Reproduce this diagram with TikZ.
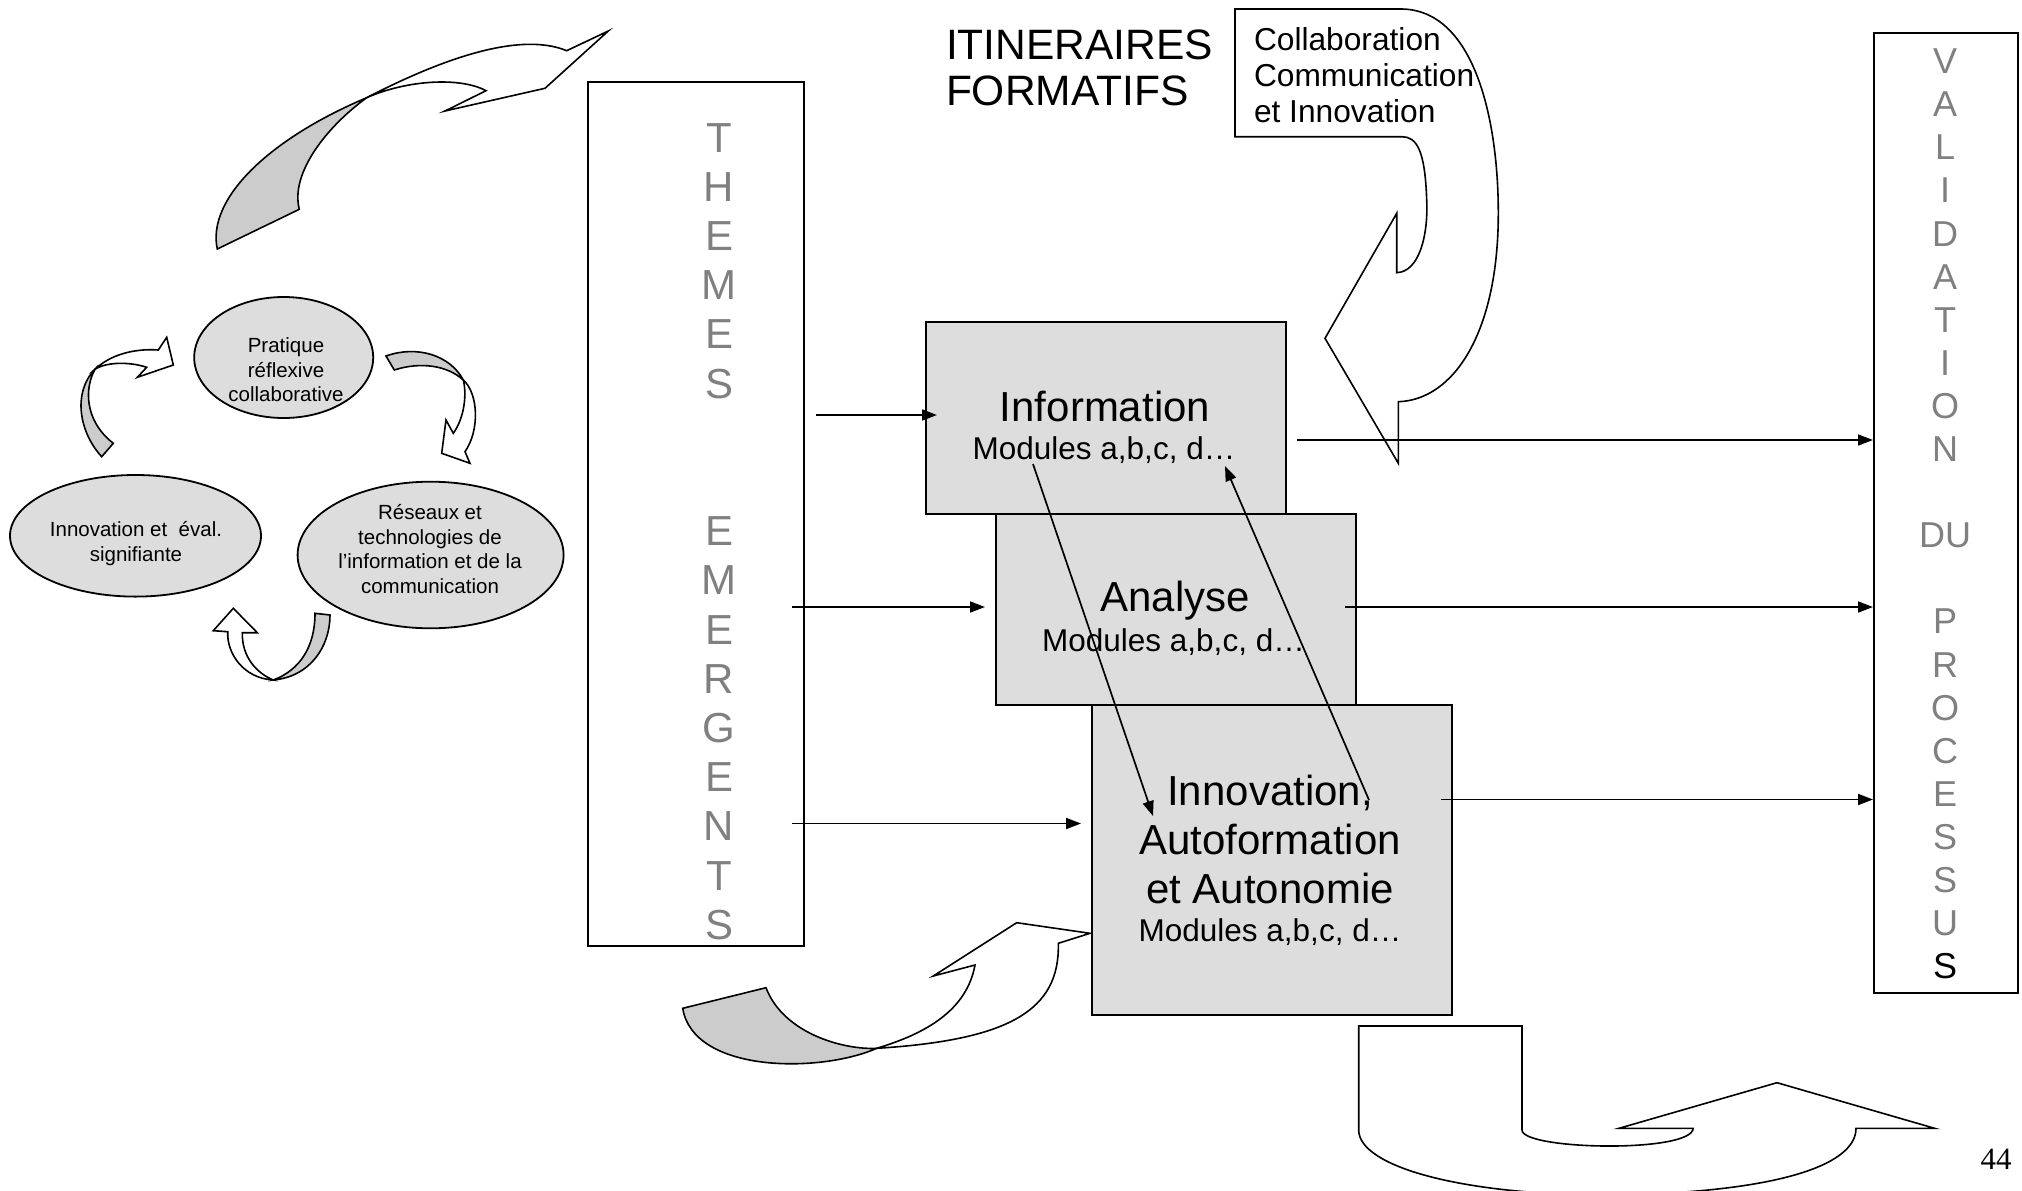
\documentclass[tikz,border=0pt]{standalone}
\usepackage{fontspec}
\setmainfont{Liberation Sans}
\newfontfamily\serifpn{Liberation Serif}
\usetikzlibrary{arrows.meta,shapes.geometric}
\definecolor{boxfill}{HTML}{DDDDDD}
\definecolor{tailfill}{HTML}{CCCCCC}
\definecolor{lettergray}{HTML}{808080}
\tikzset{
  txt/.style={inner sep=0pt, outer sep=0pt},
  procbox/.style={draw, line width=2pt, fill=boxfill, inner sep=0pt, anchor=north west},
  tallbox/.style={draw, line width=2pt, fill=white, inner sep=0pt, anchor=north west},
  oval/.style={ellipse, draw, line width=1.8pt, fill=boxfill, inner sep=0pt},
  backpart/.style={draw, line width=1.6pt, fill=tailfill, line join=miter},
  frontpart/.style={draw, line width=1.6pt, fill=white, line join=miter},
  arr/.style={line width=1.7pt, -{Triangle[length=15pt,width=11pt]}},
  bigf/.style={font=\fontsize{42}{48.5}\selectfont},
  modf/.style={font=\fontsize{31.5}{36}\selectfont},
  smallf/.style={font=\fontsize{20.5}{24.5}\selectfont}
}
\begin{document}
\begin{tikzpicture}[x=1pt,y=-1pt]
\useasboundingbox (0,0) rectangle (2022,1191);

% ---- top-left big curved arrow
\draw[backpart] (217.3,249) .. controls (206.7,200) and (266.7,140) .. (366.7,97.7)
  .. controls (326.7,126.7) and (290,173.3) .. (299.3,209.3) -- cycle;
\draw[frontpart] (366.7,97.7) .. controls (433.3,63.3) and (516.7,30) .. (566.7,50.7)
  -- (608.3,31) -- (545,88.3) -- (445,111) -- (486,90.7)
  .. controls (460,76.7) and (406.7,80) .. (366.7,97.7) -- cycle;

% ---- cycle ellipses
\node[oval, minimum width=179pt, minimum height=121pt] (pra) at (283.7,357.5) {};
\node[oval, minimum width=251pt, minimum height=121.6pt] (inn) at (135.5,535.8) {};
\node[oval, minimum width=266pt, minimum height=146.6pt] (res) at (430.6,555) {};
\node[txt, smallf, align=center] (prat) at (286,370) {Pratique\\réflexive\\collaborative};
\node[txt, smallf, align=center] (innt) at (136,543.5) {Innovation et\ \ éval.\\signifiante};
\node[txt, smallf, align=center] (rest) at (430,549) {Réseaux et\\technologies de\\l’information et de la\\communication};

% ---- cycle arrows
\draw[backpart] (101.7,456.7) .. controls (80,433.3) and (71.7,393.3) .. (95,369.3)
  .. controls (85,386.7) and (83.3,420) .. (113.3,443.3) -- cycle;
\draw[frontpart] (95,369.3) .. controls (110,355) and (133.3,348.3) .. (158.3,350)
  -- (166.7,337.3) -- (173.3,365) -- (137.3,377.3) -- (146.7,367.3)
  .. controls (130,361.7) and (106.7,361.7) .. (95,369.3) -- cycle;

\draw[backpart] (386,356) .. controls (416.7,345) and (450,355) .. (463.3,380)
  .. controls (446.7,365) and (420,361.7) .. (394.3,370) -- cycle;
\draw[frontpart] (463.3,380) .. controls (478.3,393.3) and (480,430) .. (465,451.7)
  -- (470,463.3) -- (441.7,453.3) -- (446,420) -- (453.3,433.3)
  .. controls (465,416.7) and (466.7,393.3) .. (463.3,380) -- cycle;

\draw[frontpart] (273.3,680) .. controls (243.3,678.3) and (226.7,653.3) .. (227.7,631.7)
  -- (213.3,630.7) -- (233.3,608.3) -- (257.3,632.7) -- (242.3,632.7)
  .. controls (241.7,656.7) and (256.7,673.3) .. (273.3,680) -- cycle;
\draw[backpart] (273.3,680) .. controls (310,676.7) and (330,646.7) .. (330,615)
  -- (315,613.3) .. controls (315,646.7) and (300,670) .. (273.3,680) -- cycle;

% ---- tall boxes
\node[tallbox, minimum width=216pt, minimum height=864pt] (them) at (587,81) {};
\node[txt, align=center, text=lettergray, font=\fontsize{42}{49.2}\selectfont] (themt) at (719,531.5)
  {T\\H\\E\\M\\E\\S\\~\\~\\E\\M\\E\\R\\G\\E\\N\\T\\S};
\node[tallbox, minimum width=144pt, minimum height=960pt] (val) at (1873,32) {};
\node[txt, align=center, text=lettergray, font=\fontsize{36}{43.1}\selectfont] (valt) at (1945,514)
  {V\\A\\L\\I\\D\\A\\T\\I\\O\\N\\~\\DU\\~\\P\\R\\O\\C\\E\\S\\S\\U\\\textcolor{black}{S}};

% ---- title
\node[txt, anchor=west, align=left, font=\fontsize{42.5}{46}\selectfont] (itin) at (946,68) {ITINERAIRES\\FORMATIFS};

% ---- callout arrow
\draw[frontpart] (1235,9) -- (1401.7,9) .. controls (1473.3,10) and (1498.3,116.7) .. (1498.3,213.3)
  .. controls (1498.3,333.3) and (1453.3,400) .. (1398.3,401.7)
  -- (1398.3,463.3) -- (1325,338.3) -- (1396.7,213.3) -- (1396.7,272.7)
  .. controls (1420,271.7) and (1428.3,233.3) .. (1426.7,200)
  .. controls (1425,150) and (1416.7,136.7) .. (1401.7,136.7) -- (1235,136.7) -- cycle;
\node[txt, anchor=west, align=left, font=\fontsize{31.7}{36}\selectfont] (collab) at (1254,75)
  {Collaboration\\Communication\\et Innovation};

% ---- bottom-left curved arrow
\draw[backpart] (682.7,1008.3) -- (766,987.7) .. controls (783.3,1033.3) and (843.3,1050) .. (876.7,1048.3)
  .. controls (820,1073.3) and (693.3,1073.3) .. (682.7,1008.3) -- cycle;
\draw[frontpart] (876.7,1048.3) .. controls (1010,1040) and (1060,1010) .. (1058.3,943.3)
  -- (1090,933.3) -- (1016.7,922.7) -- (933.3,976) -- (975,965)
  .. controls (966.7,1010) and (926.7,1033.3) .. (876.7,1048.3) -- cycle;

% ---- process boxes
\node[procbox, minimum width=360pt, minimum height=192pt] (info) at (925,321) {};
\node[procbox, minimum width=360pt, minimum height=191pt] (ana) at (995,513) {};
\node[procbox, minimum width=360pt, minimum height=310pt] (innv) at (1091,704) {};
\node[txt, bigf] (infot) at (1105,406.5) {Information};
\node[txt, modf] (infom) at (1104,450.5) {Modules a,b,c, d…};
\node[txt, bigf] (anat) at (1175,600.5) {Analyse};
\node[txt, modf] (anam) at (1173.5,642.5) {Modules a,b,c, d…};
\node[txt, align=center, font=\fontsize{42}{49}\selectfont] (innvt) at (1270,839.5) {Innovation,\\Autoformation\\et Autonomie};
\node[txt, modf] (innvm) at (1270,932.5) {Modules a,b,c, d…};

% ---- U arrow bottom right
\draw[frontpart] (1358.7,1130) -- (1358.7,1026) -- (1522,1026) -- (1522,1130)
  .. controls (1522,1150) and (1691.9,1153.3) .. (1693.2,1128.3)
  -- (1619,1128.3) -- (1777,1082.7) -- (1934.6,1128.3) -- (1856,1128.3)
  .. controls (1856,1166.7) and (1771.3,1193.3) .. (1607.1,1195)
  .. controls (1462.4,1195) and (1358.7,1166.7) .. (1358.7,1130) -- cycle;

% ---- page number
\node[txt, font=\serifpn\fontsize{31}{36}\selectfont] (pg) at (1996,1159) {44};

% ---- connectors
\coordinate (th1) at (816,415);
\coordinate (th2) at (792,607);
\coordinate (th3) at (792,823.5);
\coordinate (in1) at (937,415);
\coordinate (an1) at (985,607);
\coordinate (iv1) at (1081,823.5);
\coordinate (io) at (1296.5,440);
\coordinate (ao) at (1345,607);
\coordinate (ivo) at (1441,799.5);
\coordinate (da) at (1033,464);
\coordinate (db) at (1153,816);
\coordinate (ua) at (1369,800);
\coordinate (ub) at (1225,466);
\draw[arr] (th1) -- (in1);
\draw[arr] (th2) -- (an1);
\draw[arr] (th3) -- (iv1);
\draw[arr] (io) -- (io -| val.west);
\draw[arr] (ao) -- (ao -| val.west);
\draw[arr] (ivo) -- (ivo -| val.west);
\draw[arr] (da) -- (db);
\draw[arr] (ua) -- (ub);
\end{tikzpicture}
\end{document}
